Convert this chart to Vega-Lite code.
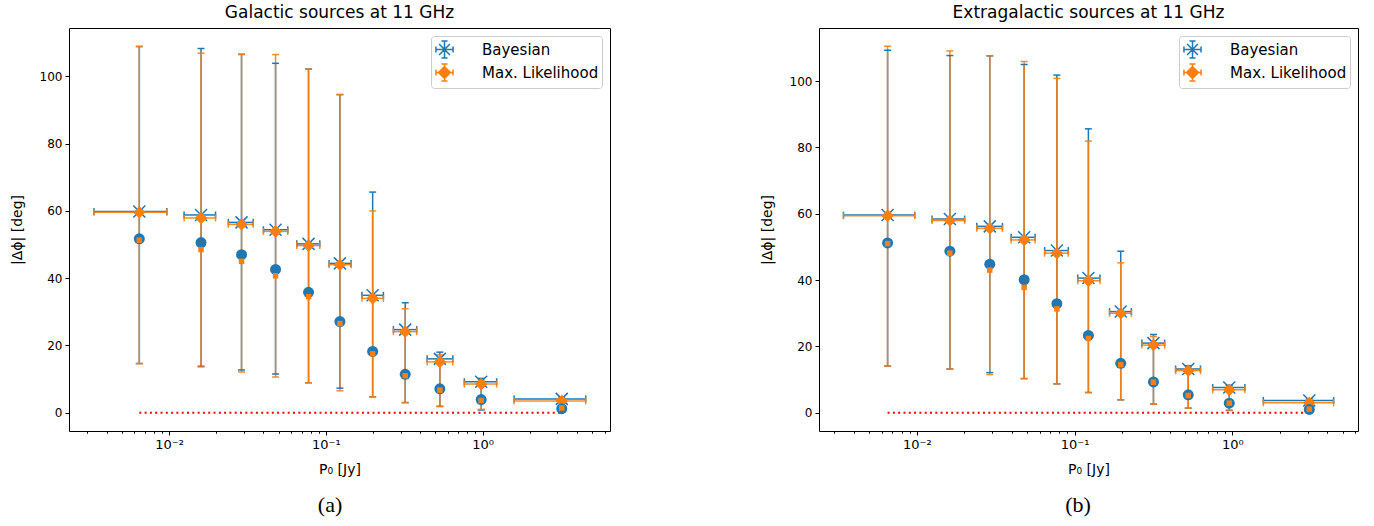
{
  "$schema": "https://vega.github.io/schema/vega-lite/v6.json",
  "background": "white",
  "padding": {"left": 9, "top": 3, "right": 5, "bottom": 5},
  "config": {
    "font": "DejaVu Sans",
    "view": {"stroke": "black", "strokeWidth": 1},
    "axis": {"domain": false, "grid": false, "tickColor": "black", "tickWidth": 1, "tickSize": 4, "labelColor": "black", "titleColor": "black", "labelFont": "DejaVu Sans", "labelFontSize": 12, "titleFont": "DejaVu Sans", "titleFontSize": 14, "titleFontWeight": "normal", "labelPadding": 3, "titlePadding": 15},
    "title": {"font": "DejaVu Sans", "fontSize": 17, "fontWeight": "normal", "color": "black", "offset": 6}
  },
  "datasets": {
    "gal": [
      {"p": 0.00646, "series": "Bayesian", "v": 59.8, "lo": 14.6, "hi": 108.9, "xlo": 0.00332, "xhi": 0.00968, "alt": 51.7},
      {"p": 0.0160, "series": "Bayesian", "v": 58.8, "lo": 13.8, "hi": 108.3, "xlo": 0.01247, "xhi": 0.0198, "alt": 50.6},
      {"p": 0.0290, "series": "Bayesian", "v": 56.6, "lo": 12.7, "hi": 106.6, "xlo": 0.0239, "xhi": 0.0344, "alt": 47.0},
      {"p": 0.0478, "series": "Bayesian", "v": 54.4, "lo": 11.5, "hi": 103.9, "xlo": 0.0400, "xhi": 0.0572, "alt": 42.6},
      {"p": 0.0776, "series": "Bayesian", "v": 50.2, "lo": 8.9, "hi": 102.2, "xlo": 0.0653, "xhi": 0.0915, "alt": 35.8},
      {"p": 0.123, "series": "Bayesian", "v": 44.4, "lo": 7.3, "hi": 94.6, "xlo": 0.105, "xhi": 0.145, "alt": 27.1},
      {"p": 0.199, "series": "Bayesian", "v": 34.9, "lo": 4.7, "hi": 65.6, "xlo": 0.170, "xhi": 0.233, "alt": 18.2},
      {"p": 0.321, "series": "Bayesian", "v": 24.7, "lo": 3.0, "hi": 32.7, "xlo": 0.270, "xhi": 0.380, "alt": 11.4},
      {"p": 0.534, "series": "Bayesian", "v": 16.0, "lo": 1.9, "hi": 18.0, "xlo": 0.443, "xhi": 0.646, "alt": 7.1},
      {"p": 0.98, "series": "Bayesian", "v": 9.2, "lo": 0.8, "hi": 10.2, "xlo": 0.765, "xhi": 1.23, "alt": 3.9},
      {"p": 3.2, "series": "Bayesian", "v": 4.1, "lo": 0.7, "hi": 4.6, "xlo": 1.59, "xhi": 4.55, "alt": 1.2},
      {"p": 0.00646, "series": "Max. Likelihood", "v": 59.6, "lo": 14.6, "hi": 108.9, "xlo": 0.00332, "xhi": 0.00968, "alt": 51.3},
      {"p": 0.0160, "series": "Max. Likelihood", "v": 57.9, "lo": 13.6, "hi": 106.9, "xlo": 0.01247, "xhi": 0.0198, "alt": 48.5},
      {"p": 0.0290, "series": "Max. Likelihood", "v": 56.0, "lo": 12.1, "hi": 106.5, "xlo": 0.0239, "xhi": 0.0344, "alt": 45.0},
      {"p": 0.0478, "series": "Max. Likelihood", "v": 53.9, "lo": 10.6, "hi": 106.5, "xlo": 0.0400, "xhi": 0.0572, "alt": 40.7},
      {"p": 0.0776, "series": "Max. Likelihood", "v": 49.7, "lo": 8.9, "hi": 102.2, "xlo": 0.0653, "xhi": 0.0915, "alt": 34.5},
      {"p": 0.123, "series": "Max. Likelihood", "v": 44.0, "lo": 6.5, "hi": 94.6, "xlo": 0.105, "xhi": 0.145, "alt": 26.5},
      {"p": 0.199, "series": "Max. Likelihood", "v": 34.0, "lo": 4.7, "hi": 60.0, "xlo": 0.170, "xhi": 0.233, "alt": 17.5},
      {"p": 0.321, "series": "Max. Likelihood", "v": 24.1, "lo": 3.0, "hi": 30.9, "xlo": 0.270, "xhi": 0.380, "alt": 11.0},
      {"p": 0.534, "series": "Max. Likelihood", "v": 15.1, "lo": 1.8, "hi": 17.2, "xlo": 0.443, "xhi": 0.646, "alt": 6.7},
      {"p": 0.98, "series": "Max. Likelihood", "v": 8.5, "lo": 1.0, "hi": 9.6, "xlo": 0.765, "xhi": 1.23, "alt": 3.6},
      {"p": 3.2, "series": "Max. Likelihood", "v": 3.5, "lo": 0.9, "hi": 4.2, "xlo": 1.59, "xhi": 4.55, "alt": 1.4}
    ],
    "ext": [
      {"p": 0.00653, "series": "Bayesian", "v": 59.6, "lo": 14.1, "hi": 109.3, "xlo": 0.00343, "xhi": 0.0097, "alt": 51.2},
      {"p": 0.0162, "series": "Bayesian", "v": 58.4, "lo": 13.2, "hi": 107.7, "xlo": 0.0125, "xhi": 0.0201, "alt": 48.7},
      {"p": 0.029, "series": "Bayesian", "v": 56.2, "lo": 12.1, "hi": 107.6, "xlo": 0.024, "xhi": 0.0349, "alt": 44.8},
      {"p": 0.0479, "series": "Bayesian", "v": 52.9, "lo": 10.3, "hi": 105.0, "xlo": 0.0396, "xhi": 0.0562, "alt": 40.1},
      {"p": 0.0772, "series": "Bayesian", "v": 48.9, "lo": 8.7, "hi": 101.8, "xlo": 0.0646, "xhi": 0.0912, "alt": 32.9},
      {"p": 0.1223, "series": "Bayesian", "v": 40.6, "lo": 6.1, "hi": 85.6, "xlo": 0.1047, "xhi": 0.1448, "alt": 23.3},
      {"p": 0.196, "series": "Bayesian", "v": 30.5, "lo": 3.9, "hi": 48.7, "xlo": 0.1666, "xhi": 0.229, "alt": 14.9},
      {"p": 0.316, "series": "Bayesian", "v": 21.0, "lo": 2.6, "hi": 23.6, "xlo": 0.267, "xhi": 0.372, "alt": 9.3},
      {"p": 0.525, "series": "Bayesian", "v": 13.2, "lo": 1.4, "hi": 14.2, "xlo": 0.4365, "xhi": 0.628, "alt": 5.4},
      {"p": 0.955, "series": "Bayesian", "v": 7.6, "lo": 0.7, "hi": 8.3, "xlo": 0.75, "xhi": 1.20, "alt": 2.9},
      {"p": 3.07, "series": "Bayesian", "v": 3.7, "lo": 0.6, "hi": 4.2, "xlo": 1.57, "xhi": 4.38, "alt": 1.0},
      {"p": 0.00653, "series": "Max. Likelihood", "v": 59.4, "lo": 14.1, "hi": 110.5, "xlo": 0.00343, "xhi": 0.0097, "alt": 51.0},
      {"p": 0.0162, "series": "Max. Likelihood", "v": 58.0, "lo": 13.2, "hi": 109.1, "xlo": 0.0125, "xhi": 0.0201, "alt": 48.1},
      {"p": 0.029, "series": "Max. Likelihood", "v": 55.6, "lo": 11.5, "hi": 107.6, "xlo": 0.024, "xhi": 0.0349, "alt": 43.0},
      {"p": 0.0479, "series": "Max. Likelihood", "v": 52.1, "lo": 10.3, "hi": 105.9, "xlo": 0.0396, "xhi": 0.0562, "alt": 37.8},
      {"p": 0.0772, "series": "Max. Likelihood", "v": 48.1, "lo": 8.7, "hi": 100.8, "xlo": 0.0646, "xhi": 0.0912, "alt": 31.3},
      {"p": 0.1223, "series": "Max. Likelihood", "v": 39.8, "lo": 6.1, "hi": 81.9, "xlo": 0.1047, "xhi": 0.1448, "alt": 22.4},
      {"p": 0.196, "series": "Max. Likelihood", "v": 30.0, "lo": 3.9, "hi": 45.2, "xlo": 0.1666, "xhi": 0.229, "alt": 14.5},
      {"p": 0.316, "series": "Max. Likelihood", "v": 20.4, "lo": 2.6, "hi": 23.0, "xlo": 0.267, "xhi": 0.372, "alt": 9.2},
      {"p": 0.525, "series": "Max. Likelihood", "v": 12.7, "lo": 1.4, "hi": 13.8, "xlo": 0.4365, "xhi": 0.628, "alt": 5.2},
      {"p": 0.955, "series": "Max. Likelihood", "v": 6.9, "lo": 0.8, "hi": 7.8, "xlo": 0.75, "xhi": 1.20, "alt": 2.9},
      {"p": 3.07, "series": "Max. Likelihood", "v": 3.0, "lo": 0.8, "hi": 3.5, "xlo": 1.57, "xhi": 4.38, "alt": 1.1}
    ]
  },
  "resolve": {"scale": {"color": "independent"}, "legend": {"color": "independent"}},
  "hconcat": [
    {
      "title": {"text": "(a)", "orient": "bottom", "font": "Liberation Serif", "fontSize": 22, "offset": 18, "anchor": "middle", "dx": 20},
      "resolve": {"scale": {"color": "independent"}, "legend": {"color": "independent"}},
      "vconcat": [
        {
          "title": {"text": "Galactic sources at 11 GHz"},
          "width": 541, "height": 403,
          "data": {"name": "gal"},
          "resolve": {"axis": {"x": "independent"}},
          "layer": [
            {"mark": {"type": "rule", "color": "#ff0000", "strokeWidth": 2, "strokeDash": [2, 3.3]},
             "encoding": {
               "x": {"aggregate": "min", "field": "p", "type": "quantitative", "scale": {"type": "log", "domain": [0.0023, 6.5], "nice": false}, "axis": null},
               "x2": {"aggregate": "max", "field": "p"},
               "y": {"datum": 0, "type": "quantitative", "scale": {"domain": [-5.45, 114.4], "nice": false, "zero": false}, "axis": {"values": [0, 20, 40, 60, 80, 100], "title": "|Δϕ| [deg]"}}}},
            {"mark": {"type": "rule", "strokeWidth": 1.5},
             "encoding": {
               "x": {"field": "p", "type": "quantitative", "scale": {"type": "log", "domain": [0.0023, 6.5], "nice": false}, "axis": null},
               "y": {"field": "lo", "type": "quantitative", "scale": {"domain": [-5.45, 114.4], "nice": false, "zero": false}},
               "y2": {"field": "hi"},
               "stroke": {"condition": {"test": "datum.series === 'Bayesian'", "value": "#1f77b4"}, "value": "#ff7f0e"},
               "opacity": {"condition": {"test": "datum.series === 'Bayesian'", "value": 1}, "value": 0.9}}},
            {"mark": {"type": "rule", "strokeWidth": 1.5},
             "encoding": {
               "x": {"field": "xlo", "type": "quantitative", "scale": {"type": "log", "domain": [0.0023, 6.5], "nice": false}, "axis": null},
               "x2": {"field": "xhi"},
               "y": {"field": "v", "type": "quantitative", "scale": {"domain": [-5.45, 114.4], "nice": false, "zero": false}},
               "color": {"field": "series", "type": "nominal", "scale": {"domain": ["Bayesian", "Max. Likelihood"], "range": ["#1f77b4", "#ff7f0e"]},
                 "legend": {"title": null, "orient": "top-right", "offset": 8, "padding": 3, "rowPadding": -3, "symbolSize": 361,
                   "symbolType": {"expr": "datum.value === 'Bayesian' ? 'M-0.57,-0.57L0.57,0.57M-0.57,0.57L0.57,-0.57M0,-0.9L0,0.9M-0.9,0L0.9,0M-0.32,-0.9L0.32,-0.9M-0.32,0.9L0.32,0.9M-0.9,-0.32L-0.9,0.32M0.9,-0.32L0.9,0.32' : 'M-0.63,0L0,-0.63L0.63,0L0,0.63ZM0,-0.9L0,0.9M-0.9,0L0.9,0M-0.32,-0.9L0.32,-0.9M-0.32,0.9L0.32,0.9M-0.9,-0.32L-0.9,0.32M0.9,-0.32L0.9,0.32'"},
                   "symbolFillColor": "#ff7f0e", "symbolStrokeWidth": 1.5, "symbolOpacity": 1,
                   "labelFontSize": 15, "labelFont": "DejaVu Sans", "labelColor": "black", "labelOffset": 27, "fillColor": "rgba(255,255,255,0.85)", "strokeColor": "#cccccc", "cornerRadius": 3}},
               "opacity": {"condition": {"test": "datum.series === 'Bayesian'", "value": 1}, "value": 0.9}}},
            {"mark": {"type": "tick", "orient": "horizontal", "size": 7, "thickness": 1.5},
             "encoding": {
               "x": {"field": "p", "type": "quantitative", "scale": {"type": "log", "domain": [0.0023, 6.5], "nice": false}, "axis": null},
               "y": {"field": "lo", "type": "quantitative", "scale": {"domain": [-5.45, 114.4], "nice": false, "zero": false}},
               "fill": {"condition": {"test": "datum.series === 'Bayesian'", "value": "#1f77b4"}, "value": "#ff7f0e"},
               "opacity": {"condition": {"test": "datum.series === 'Bayesian'", "value": 1}, "value": 0.9}}},
            {"mark": {"type": "tick", "orient": "horizontal", "size": 7, "thickness": 1.5},
             "encoding": {
               "x": {"field": "p", "type": "quantitative", "scale": {"type": "log", "domain": [0.0023, 6.5], "nice": false}, "axis": null},
               "y": {"field": "hi", "type": "quantitative", "scale": {"domain": [-5.45, 114.4], "nice": false, "zero": false}},
               "fill": {"condition": {"test": "datum.series === 'Bayesian'", "value": "#1f77b4"}, "value": "#ff7f0e"},
               "opacity": {"condition": {"test": "datum.series === 'Bayesian'", "value": 1}, "value": 0.9}}},
            {"mark": {"type": "tick", "orient": "vertical", "size": 7, "thickness": 1.5},
             "encoding": {
               "x": {"field": "xlo", "type": "quantitative", "scale": {"type": "log", "domain": [0.0023, 6.5], "nice": false}, "axis": null},
               "y": {"field": "v", "type": "quantitative", "scale": {"domain": [-5.45, 114.4], "nice": false, "zero": false}},
               "fill": {"condition": {"test": "datum.series === 'Bayesian'", "value": "#1f77b4"}, "value": "#ff7f0e"},
               "opacity": {"condition": {"test": "datum.series === 'Bayesian'", "value": 1}, "value": 0.9}}},
            {"mark": {"type": "tick", "orient": "vertical", "size": 7, "thickness": 1.5},
             "encoding": {
               "x": {"field": "xhi", "type": "quantitative", "scale": {"type": "log", "domain": [0.0023, 6.5], "nice": false}, "axis": null},
               "y": {"field": "v", "type": "quantitative", "scale": {"domain": [-5.45, 114.4], "nice": false, "zero": false}},
               "fill": {"condition": {"test": "datum.series === 'Bayesian'", "value": "#1f77b4"}, "value": "#ff7f0e"},
               "opacity": {"condition": {"test": "datum.series === 'Bayesian'", "value": 1}, "value": 0.9}}},
            {"transform": [{"filter": "datum.series === 'Bayesian'"}],
             "mark": {"type": "point", "shape": "M-1,-1L1,1M-1,1L1,-1", "filled": false, "stroke": "#1f77b4", "strokeWidth": 1.5, "size": 144, "opacity": 1},
             "encoding": {
               "x": {"field": "p", "type": "quantitative", "scale": {"type": "log", "domain": [0.0023, 6.5], "nice": false}, "axis": null},
               "y": {"field": "v", "type": "quantitative", "scale": {"domain": [-5.45, 114.4], "nice": false, "zero": false}}}},
            {"transform": [{"filter": "datum.series === 'Max. Likelihood'"}],
             "mark": {"type": "point", "shape": "diamond", "filled": true, "fill": "#ff7f0e", "stroke": "#ff7f0e", "strokeWidth": 1, "size": 130, "opacity": 1},
             "encoding": {
               "x": {"field": "p", "type": "quantitative", "scale": {"type": "log", "domain": [0.0023, 6.5], "nice": false}, "axis": null},
               "y": {"field": "v", "type": "quantitative", "scale": {"domain": [-5.45, 114.4], "nice": false, "zero": false}}}},
            {"transform": [{"filter": "datum.series === 'Bayesian'"}],
             "mark": {"type": "point", "shape": "circle", "filled": true, "color": "#1f77b4", "size": 121, "opacity": 1},
             "encoding": {
               "x": {"field": "p", "type": "quantitative", "scale": {"type": "log", "domain": [0.0023, 6.5], "nice": false},
                 "axis": {"orient": "bottom", "values": [0.01, 0.1, 1], "labelExpr": "datum.value < 0.05 ? '10⁻²' : (datum.value < 0.5 ? '10⁻¹' : '10⁰')", "title": "P₀ [Jy]", "tickSize": 4, "labelFontSize": 13, "titlePadding": 11}},
               "y": {"field": "alt", "type": "quantitative", "scale": {"domain": [-5.45, 114.4], "nice": false, "zero": false}}}},
            {"transform": [{"filter": "datum.series === 'Max. Likelihood'"}],
             "mark": {"type": "point", "shape": "square", "filled": true, "color": "#ff7f0e", "size": 30, "opacity": 1},
             "encoding": {
               "x": {"field": "p", "type": "quantitative", "scale": {"type": "log", "domain": [0.0023, 6.5], "nice": false},
                 "axis": {"orient": "bottom", "values": [0.003, 0.004, 0.005, 0.006, 0.007, 0.008, 0.009, 0.02, 0.03, 0.04, 0.05, 0.06, 0.07, 0.08, 0.09, 0.2, 0.3, 0.4, 0.5, 0.6, 0.7, 0.8, 0.9, 2, 3, 4, 5, 6], "labels": false, "title": null, "tickSize": 2.2}},
               "y": {"field": "alt", "type": "quantitative", "scale": {"domain": [-5.45, 114.4], "nice": false, "zero": false}}}}
          ]
        }
      ]
    },
    {
      "title": {"text": "(b)", "orient": "bottom", "font": "Liberation Serif", "fontSize": 22, "offset": 18, "anchor": "middle", "dx": 19},
      "resolve": {"scale": {"color": "independent"}, "legend": {"color": "independent"}},
      "vconcat": [
        {
          "title": {"text": "Extragalactic sources at 11 GHz"},
          "width": 539, "height": 403,
          "data": {"name": "ext"},
          "resolve": {"axis": {"x": "independent"}},
          "layer": [
            {"mark": {"type": "rule", "color": "#ff0000", "strokeWidth": 2, "strokeDash": [2, 3.3]},
             "encoding": {
               "x": {"aggregate": "min", "field": "p", "type": "quantitative", "scale": {"type": "log", "domain": [0.0024, 6.25], "nice": false}, "axis": null},
               "x2": {"aggregate": "max", "field": "p"},
               "y": {"datum": 0, "type": "quantitative", "scale": {"domain": [-5.5, 116], "nice": false, "zero": false}, "axis": {"values": [0, 20, 40, 60, 80, 100], "title": "|Δϕ| [deg]"}}}},
            {"mark": {"type": "rule", "strokeWidth": 1.5},
             "encoding": {
               "x": {"field": "p", "type": "quantitative", "scale": {"type": "log", "domain": [0.0024, 6.25], "nice": false}, "axis": null},
               "y": {"field": "lo", "type": "quantitative", "scale": {"domain": [-5.5, 116], "nice": false, "zero": false}},
               "y2": {"field": "hi"},
               "stroke": {"condition": {"test": "datum.series === 'Bayesian'", "value": "#1f77b4"}, "value": "#ff7f0e"},
               "opacity": {"condition": {"test": "datum.series === 'Bayesian'", "value": 1}, "value": 0.9}}},
            {"mark": {"type": "rule", "strokeWidth": 1.5},
             "encoding": {
               "x": {"field": "xlo", "type": "quantitative", "scale": {"type": "log", "domain": [0.0024, 6.25], "nice": false}, "axis": null},
               "x2": {"field": "xhi"},
               "y": {"field": "v", "type": "quantitative", "scale": {"domain": [-5.5, 116], "nice": false, "zero": false}},
               "color": {"field": "series", "type": "nominal", "scale": {"domain": ["Bayesian", "Max. Likelihood"], "range": ["#1f77b4", "#ff7f0e"]},
                 "legend": {"title": null, "orient": "top-right", "offset": 8, "padding": 3, "rowPadding": -3, "symbolSize": 361,
                   "symbolType": {"expr": "datum.value === 'Bayesian' ? 'M-0.57,-0.57L0.57,0.57M-0.57,0.57L0.57,-0.57M0,-0.9L0,0.9M-0.9,0L0.9,0M-0.32,-0.9L0.32,-0.9M-0.32,0.9L0.32,0.9M-0.9,-0.32L-0.9,0.32M0.9,-0.32L0.9,0.32' : 'M-0.63,0L0,-0.63L0.63,0L0,0.63ZM0,-0.9L0,0.9M-0.9,0L0.9,0M-0.32,-0.9L0.32,-0.9M-0.32,0.9L0.32,0.9M-0.9,-0.32L-0.9,0.32M0.9,-0.32L0.9,0.32'"},
                   "symbolFillColor": "#ff7f0e", "symbolStrokeWidth": 1.5, "symbolOpacity": 1,
                   "labelFontSize": 15, "labelFont": "DejaVu Sans", "labelColor": "black", "labelOffset": 27, "fillColor": "rgba(255,255,255,0.85)", "strokeColor": "#cccccc", "cornerRadius": 3}},
               "opacity": {"condition": {"test": "datum.series === 'Bayesian'", "value": 1}, "value": 0.9}}},
            {"mark": {"type": "tick", "orient": "horizontal", "size": 7, "thickness": 1.5},
             "encoding": {
               "x": {"field": "p", "type": "quantitative", "scale": {"type": "log", "domain": [0.0024, 6.25], "nice": false}, "axis": null},
               "y": {"field": "lo", "type": "quantitative", "scale": {"domain": [-5.5, 116], "nice": false, "zero": false}},
               "fill": {"condition": {"test": "datum.series === 'Bayesian'", "value": "#1f77b4"}, "value": "#ff7f0e"},
               "opacity": {"condition": {"test": "datum.series === 'Bayesian'", "value": 1}, "value": 0.9}}},
            {"mark": {"type": "tick", "orient": "horizontal", "size": 7, "thickness": 1.5},
             "encoding": {
               "x": {"field": "p", "type": "quantitative", "scale": {"type": "log", "domain": [0.0024, 6.25], "nice": false}, "axis": null},
               "y": {"field": "hi", "type": "quantitative", "scale": {"domain": [-5.5, 116], "nice": false, "zero": false}},
               "fill": {"condition": {"test": "datum.series === 'Bayesian'", "value": "#1f77b4"}, "value": "#ff7f0e"},
               "opacity": {"condition": {"test": "datum.series === 'Bayesian'", "value": 1}, "value": 0.9}}},
            {"mark": {"type": "tick", "orient": "vertical", "size": 7, "thickness": 1.5},
             "encoding": {
               "x": {"field": "xlo", "type": "quantitative", "scale": {"type": "log", "domain": [0.0024, 6.25], "nice": false}, "axis": null},
               "y": {"field": "v", "type": "quantitative", "scale": {"domain": [-5.5, 116], "nice": false, "zero": false}},
               "fill": {"condition": {"test": "datum.series === 'Bayesian'", "value": "#1f77b4"}, "value": "#ff7f0e"},
               "opacity": {"condition": {"test": "datum.series === 'Bayesian'", "value": 1}, "value": 0.9}}},
            {"mark": {"type": "tick", "orient": "vertical", "size": 7, "thickness": 1.5},
             "encoding": {
               "x": {"field": "xhi", "type": "quantitative", "scale": {"type": "log", "domain": [0.0024, 6.25], "nice": false}, "axis": null},
               "y": {"field": "v", "type": "quantitative", "scale": {"domain": [-5.5, 116], "nice": false, "zero": false}},
               "fill": {"condition": {"test": "datum.series === 'Bayesian'", "value": "#1f77b4"}, "value": "#ff7f0e"},
               "opacity": {"condition": {"test": "datum.series === 'Bayesian'", "value": 1}, "value": 0.9}}},
            {"transform": [{"filter": "datum.series === 'Bayesian'"}],
             "mark": {"type": "point", "shape": "M-1,-1L1,1M-1,1L1,-1", "filled": false, "stroke": "#1f77b4", "strokeWidth": 1.5, "size": 144, "opacity": 1},
             "encoding": {
               "x": {"field": "p", "type": "quantitative", "scale": {"type": "log", "domain": [0.0024, 6.25], "nice": false}, "axis": null},
               "y": {"field": "v", "type": "quantitative", "scale": {"domain": [-5.5, 116], "nice": false, "zero": false}}}},
            {"transform": [{"filter": "datum.series === 'Max. Likelihood'"}],
             "mark": {"type": "point", "shape": "diamond", "filled": true, "fill": "#ff7f0e", "stroke": "#ff7f0e", "strokeWidth": 1, "size": 130, "opacity": 1},
             "encoding": {
               "x": {"field": "p", "type": "quantitative", "scale": {"type": "log", "domain": [0.0024, 6.25], "nice": false}, "axis": null},
               "y": {"field": "v", "type": "quantitative", "scale": {"domain": [-5.5, 116], "nice": false, "zero": false}}}},
            {"transform": [{"filter": "datum.series === 'Bayesian'"}],
             "mark": {"type": "point", "shape": "circle", "filled": true, "color": "#1f77b4", "size": 121, "opacity": 1},
             "encoding": {
               "x": {"field": "p", "type": "quantitative", "scale": {"type": "log", "domain": [0.0024, 6.25], "nice": false},
                 "axis": {"orient": "bottom", "values": [0.01, 0.1, 1], "labelExpr": "datum.value < 0.05 ? '10⁻²' : (datum.value < 0.5 ? '10⁻¹' : '10⁰')", "title": "P₀ [Jy]", "tickSize": 4, "labelFontSize": 13, "titlePadding": 11}},
               "y": {"field": "alt", "type": "quantitative", "scale": {"domain": [-5.5, 116], "nice": false, "zero": false}}}},
            {"transform": [{"filter": "datum.series === 'Max. Likelihood'"}],
             "mark": {"type": "point", "shape": "square", "filled": true, "color": "#ff7f0e", "size": 30, "opacity": 1},
             "encoding": {
               "x": {"field": "p", "type": "quantitative", "scale": {"type": "log", "domain": [0.0024, 6.25], "nice": false},
                 "axis": {"orient": "bottom", "values": [0.003, 0.004, 0.005, 0.006, 0.007, 0.008, 0.009, 0.02, 0.03, 0.04, 0.05, 0.06, 0.07, 0.08, 0.09, 0.2, 0.3, 0.4, 0.5, 0.6, 0.7, 0.8, 0.9, 2, 3, 4, 5, 6], "labels": false, "title": null, "tickSize": 2.2}},
               "y": {"field": "alt", "type": "quantitative", "scale": {"domain": [-5.5, 116], "nice": false, "zero": false}}}}
          ]
        }
      ]
    }
  ],
  "spacing": 148
}
